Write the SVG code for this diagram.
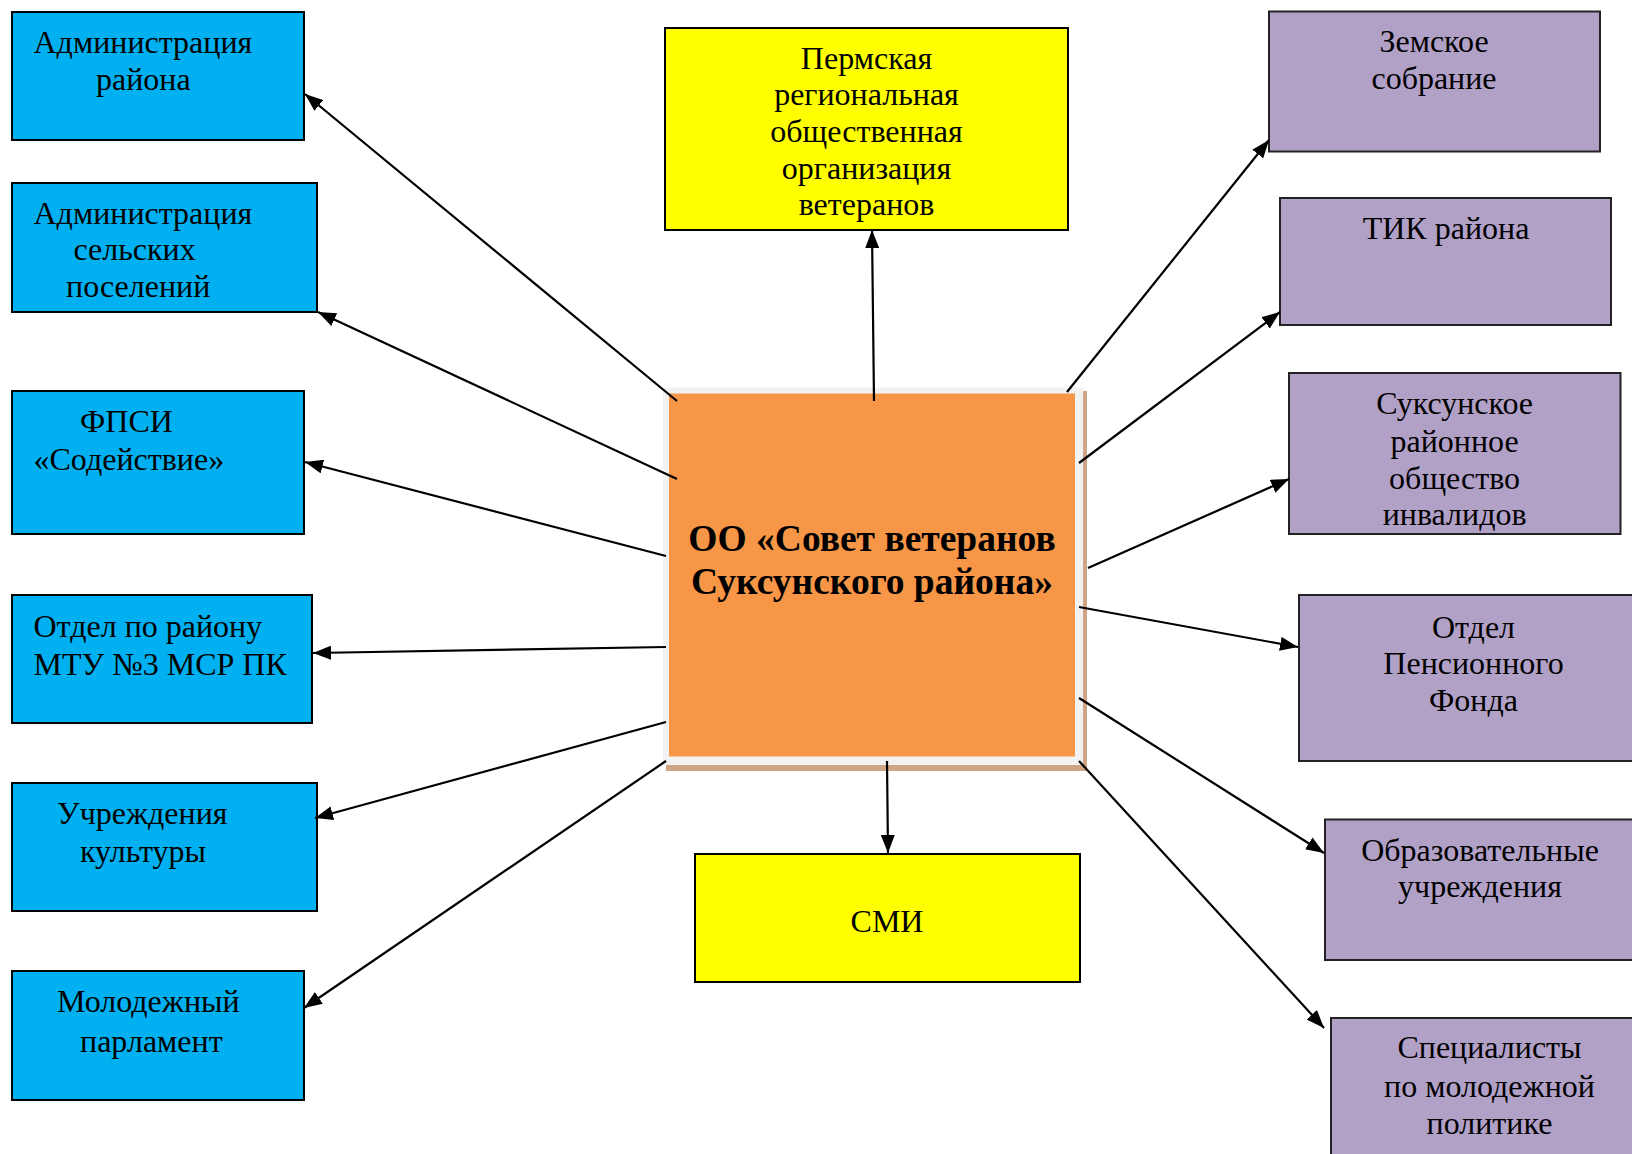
<svg xmlns="http://www.w3.org/2000/svg" width="1632" height="1154" viewBox="0 0 1632 1154">
<defs>
<marker id="arr" viewBox="0 0 18 14" refX="18" refY="7" markerUnits="userSpaceOnUse" markerWidth="18" markerHeight="14" orient="auto" preserveAspectRatio="none">
<path d="M0,0 L18,7 L0,14 z" fill="#000"/>
</marker>
<style>
.blue{fill:#00B0F0;stroke:#000;stroke-width:2}
.yel{fill:#FFFF00;stroke:#000;stroke-width:2}
.pur{fill:#B2A1C7;stroke:#222;stroke-width:2}
text{font-family:"Liberation Serif","Times New Roman",serif;font-size:32px;fill:#000}
.c{text-anchor:middle}
.title{font-size:37.5px;font-weight:bold;text-anchor:middle}
.conn line{stroke:#000;stroke-width:2.2;marker-end:url(#arr)}
</style>
</defs>
<rect width="1632" height="1154" fill="#fff"/>

<g id="n-center">
<rect x="666" y="391" width="421" height="380" fill="#CFA585"/>
<rect x="663" y="387.5" width="420" height="377.5" fill="#F2F2F2"/>
<rect x="669" y="393.5" width="406" height="363" fill="#F79646"/>
<text class="title" x="872" y="551">ОО «Совет ветеранов</text>
<text class="title" x="872" y="594">Суксунского района»</text>
</g>

<g id="n-adm-rayona">
<rect class="blue" x="12" y="12" width="292" height="128"/>
<text x="33.5" y="52.5">Администрация</text>
<text x="96" y="89.5">района</text>
</g>
<g id="n-adm-selskih">
<rect class="blue" x="12" y="183" width="305" height="129"/>
<text x="33.5" y="223.5">Администрация</text>
<text x="73.5" y="259.5">сельских</text>
<text x="66" y="296.5">поселений</text>
</g>
<g id="n-fpsi">
<rect class="blue" x="12" y="391" width="292" height="143"/>
<text x="80" y="431.5">ФПСИ</text>
<text x="33.5" y="469.5">«Содействие»</text>
</g>
<g id="n-otdel-mtu">
<rect class="blue" x="12" y="595" width="300" height="128"/>
<text x="33.5" y="636.5">Отдел по району</text>
<text x="33.5" y="674.5">МТУ №3 МСР ПК</text>
</g>
<g id="n-kultura">
<rect class="blue" x="12" y="783" width="305" height="128"/>
<text x="57" y="823.5">Учреждения</text>
<text x="80" y="861.5">культуры</text>
</g>
<g id="n-molparl">
<rect class="blue" x="12" y="971" width="292" height="129"/>
<text x="57" y="1011.5">Молодежный</text>
<text x="80" y="1051.5">парламент</text>
</g>

<g id="n-perm">
<rect class="yel" x="665" y="28" width="403" height="202"/>
<text class="c" x="866.5" y="68.5">Пермская</text>
<text class="c" x="866.5" y="104.5">региональная</text>
<text class="c" x="866.5" y="141.5">общественная</text>
<text class="c" x="866.5" y="178.5">организация</text>
<text class="c" x="866.5" y="214.5">ветеранов</text>
</g>
<g id="n-smi">
<rect class="yel" x="695" y="854" width="385" height="128"/>
<text class="c" x="887" y="931.5">СМИ</text>
</g>

<g id="n-zemskoe">
<rect class="pur" x="1269" y="11.5" width="331" height="140"/>
<text class="c" x="1434" y="51.5">Земское</text>
<text class="c" x="1434" y="89">собрание</text>
</g>
<g id="n-tik">
<rect class="pur" x="1280" y="198" width="331" height="127"/>
<text class="c" x="1446" y="239">ТИК района</text>
</g>
<g id="n-invalidy">
<rect class="pur" x="1289" y="373" width="331.5" height="161"/>
<text class="c" x="1454.6" y="414">Суксунское</text>
<text class="c" x="1454.6" y="451.5">районное</text>
<text class="c" x="1454.6" y="489">общество</text>
<text class="c" x="1454.6" y="524.5">инвалидов</text>
</g>
<g id="n-pension">
<rect class="pur" x="1299" y="595" width="345" height="166"/>
<text class="c" x="1473.5" y="637.5">Отдел</text>
<text class="c" x="1473.5" y="674">Пенсионного</text>
<text class="c" x="1473.5" y="710.5">Фонда</text>
</g>
<g id="n-obraz">
<rect class="pur" x="1325" y="819.5" width="319" height="140.5"/>
<text class="c" x="1480" y="860.5">Образовательные</text>
<text class="c" x="1480" y="896.5">учреждения</text>
</g>
<g id="n-spec">
<rect class="pur" x="1331" y="1018" width="313" height="150"/>
<text class="c" x="1489.5" y="1057.5">Специалисты</text>
<text class="c" x="1489.5" y="1096.5">по молодежной</text>
<text class="c" x="1489.5" y="1133.5">политике</text>
</g>

<g id="connectors" class="conn">
<line x1="677" y1="401" x2="305" y2="94"/>
<line x1="677" y1="479" x2="318" y2="312"/>
<line x1="666" y1="556" x2="305" y2="462"/>
<line x1="666" y1="647" x2="313" y2="653"/>
<line x1="666" y1="722" x2="315" y2="818"/>
<line x1="666" y1="761" x2="304" y2="1008"/>
<line x1="874" y1="401" x2="872" y2="230"/>
<line x1="887" y1="761" x2="888" y2="853"/>
<line x1="1067" y1="392" x2="1269" y2="140"/>
<line x1="1079" y1="463" x2="1280" y2="312"/>
<line x1="1088" y1="568" x2="1289" y2="479"/>
<line x1="1079" y1="607" x2="1298" y2="647"/>
<line x1="1079" y1="698" x2="1324" y2="853"/>
<line x1="1079" y1="761" x2="1324" y2="1028"/>
</g>
</svg>
